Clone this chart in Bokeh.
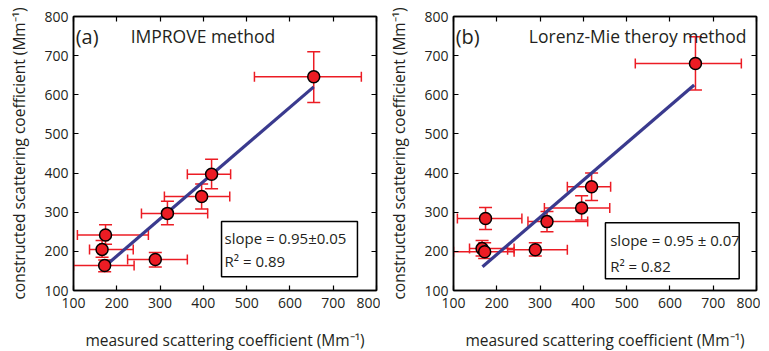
from bokeh.plotting import figure
from bokeh.models import (ColumnDataSource, Whisker, TeeHead, LinearAxis, Label,
                          BoxAnnotation, FixedTicker, Range1d)
from bokeh.layouts import row
from bokeh.embed import file_html
from bokeh.resources import INLINE

# ---------------- data ----------------
ticks = [100, 200, 300, 400, 500, 600, 700, 800]

# panel (a) IMPROVE method
a_x      = [655, 419, 396, 317, 174, 166, 172, 289]
a_y      = [646, 397, 340, 297, 242, 205, 164, 179]
a_x_lo   = [518, 363, 310, 257, 109, 137, 100, 225]
a_x_hi   = [765, 463, 461, 410, 273, 238, 240, 363]
a_y_lo   = [580, 360, 308, 268, 218, 185, 148, 160]
a_y_hi   = [710, 435, 372, 328, 268, 228, 178, 197]
a_slope, a_intercept = 0.95, -2.0
a_fit_x  = [170, 655]
a_texts  = ["slope = 0.95\u00b10.05", "R\u00b2 = 0.89"]

# panel (b) Lorenz-Mie theory method
b_x      = [659, 419, 396, 316, 174, 166, 172, 289]
b_y      = [680, 365, 311, 276, 284, 207, 199, 204]
b_x_lo   = [520, 363, 310, 272, 109, 137, 100, 225]
b_x_hi   = [765, 463, 461, 410, 258, 240, 240, 363]
b_y_lo   = [612, 330, 280, 250, 256, 188, 182, 188]
b_y_hi   = [748, 400, 342, 302, 312, 228, 222, 222]
b_slope, b_intercept = 0.95, 2.0
b_fit_x  = [167, 656]
b_texts  = ["slope = 0.95 \u00b1 0.07", "R\u00b2 = 0.82"]

FONT = "Open Sans"
RED = "#ec1c24"
BLUE = "#3a3a8e"
TXT = "#231f20"


def make_panel(tag, title, xs, ys, xlo, xhi, ylo, yhi, slope, icpt, fitx, texts,
               mbl, title_x, box, text_x, text_y):
    p = figure(frame_width=303, frame_height=274, output_backend="svg", toolbar_location=None,
               x_range=Range1d(100, 800), y_range=Range1d(100, 800),
               min_border_left=mbl, min_border_right=4, min_border_top=16,
               min_border_bottom=55)
    p.grid.visible = False
    p.outline_line_color = "black"
    p.outline_line_width = 1.5
    p.background_fill_color = "white"
    p.border_fill_color = "white"

    for ax in (p.xaxis[0], p.yaxis[0]):
        ax.ticker = FixedTicker(ticks=ticks)
        ax.major_tick_in = 5
        ax.major_tick_out = 0
        ax.minor_tick_line_color = None
        ax.axis_line_color = "black"
        ax.axis_line_width = 1.5
        ax.major_tick_line_width = 1.2
        ax.major_label_text_font = FONT
        ax.major_label_text_font_size = "14px"
        ax.major_label_text_color = TXT
        ax.axis_label_text_font = FONT
        ax.axis_label_text_font_size = "15.5px"
        ax.axis_label_text_font_style = "normal"
        ax.axis_label_text_color = TXT
    p.xaxis[0].axis_label = "measured scattering coefficient (Mm\u207b\u00b9)"
    p.yaxis[0].axis_label = "constructed scattering coefficient (Mm\u207b\u00b9)"
    p.xaxis[0].major_label_standoff = 7
    p.xaxis[0].axis_label_standoff = 18
    p.yaxis[0].major_label_standoff = 5
    p.yaxis[0].axis_label_standoff = 11

    for loc in ("above", "right"):
        ax = LinearAxis(ticker=FixedTicker(ticks=ticks), major_tick_in=5, major_tick_out=0,
                        minor_tick_line_color=None, major_label_text_font_size="0px",
                        major_label_standoff=0, axis_line_width=1.5,
                        major_tick_line_width=1.2)
        ax.major_label_overrides = {t: "" for t in ticks}
        p.add_layout(ax, loc)

    src = ColumnDataSource(dict(x=xs, y=ys, xlo=xlo, xhi=xhi, ylo=ylo, yhi=yhi))
    p.add_layout(Whisker(source=src, base="x", lower="ylo", upper="yhi", dimension="height",
                         line_color=RED, line_width=1.5,
                         upper_head=TeeHead(size=13, line_color=RED, line_width=1.5),
                         lower_head=TeeHead(size=13, line_color=RED, line_width=1.5)))
    p.add_layout(Whisker(source=src, base="y", lower="xlo", upper="xhi", dimension="width",
                         line_color=RED, line_width=1.5,
                         upper_head=TeeHead(size=10, line_color=RED, line_width=1.5),
                         lower_head=TeeHead(size=10, line_color=RED, line_width=1.5)))

    fity = [slope * v + icpt for v in fitx]
    p.line(fitx, fity, line_color=BLUE, line_width=3.2)
    p.scatter("x", "y", source=src, size=12, fill_color=RED, line_color="black",
              line_width=1.5)

    p.add_layout(Label(x=105, y=748, text=tag, text_font=FONT, text_font_size="20px",
                       text_baseline="middle", text_color=TXT))
    p.add_layout(Label(x=title_x, y=750, text=title, text_font=FONT, text_font_size="17.5px",
                       text_baseline="middle", text_color=TXT))

    p.add_layout(BoxAnnotation(left=box[0], right=box[1], bottom=box[2], top=box[3],
                               fill_color="white", fill_alpha=1.0, line_color="black",
                               line_width=1.5, line_alpha=1.0))
    for t, ty in zip(texts, text_y):
        p.add_layout(Label(x=text_x, y=ty, text=t, text_font=FONT, text_font_size="15px",
                           text_baseline="middle", text_color=TXT))
    return p


pa = make_panel("(a)", "IMPROVE method", a_x, a_y, a_x_lo, a_x_hi, a_y_lo, a_y_hi,
                a_slope, a_intercept, a_fit_x, a_texts, 73, 232,
                (442, 756, 135, 276), 449, (235, 176))
pb = make_panel("(b)", "Lorenz-Mie theroy method", b_x, b_y, b_x_lo, b_x_hi, b_y_lo, b_y_hi,
                b_slope, b_intercept, b_fit_x, b_texts, 73, 274,
                (451, 760, 130, 273), 462, (230, 163))

layout = row(pa, pb)
open("out.html", "w").write(file_html(layout, INLINE))
